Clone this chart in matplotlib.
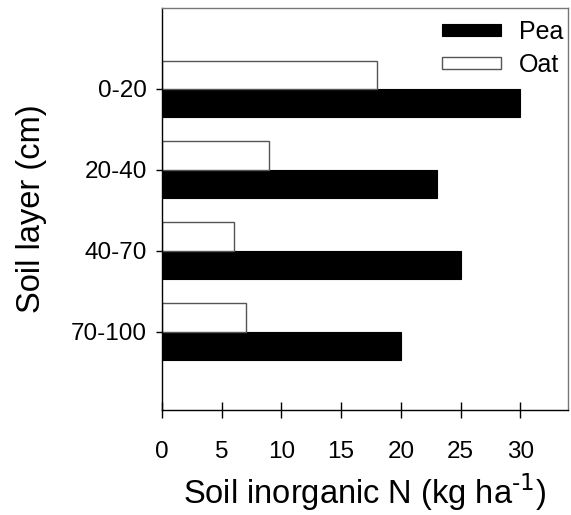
import matplotlib
matplotlib.use("Agg")
import matplotlib.pyplot as plt
import numpy as np

plt.rcParams['font.family'] = ['Liberation Sans', 'DejaVu Sans']

layers = ["0-20", "20-40", "40-70", "70-100"]
pea = [30, 23, 25, 20]
oat = [18, 9, 6, 7]
xticks = [0, 5, 10, 15, 20, 25, 30]

fig = plt.figure(figsize=(5.71, 5.15), dpi=100)
ax = fig.add_axes([162/571, 1 - 410/515, (568-162)/571, (410-8)/515])

pos = np.arange(len(layers))
h = 0.35
ax.barh(pos + h/2, pea, height=h, color='black', edgecolor='black', linewidth=0.8, label='Pea')
ax.barh(pos - h/2, oat, height=h, color='white', edgecolor='#555555', linewidth=1.0, label='Oat')

ax.set_xlim(0, 34)
ax.set_ylim(3.97, -1.0)
ax.set_yticks(pos)
ax.set_yticklabels(layers, fontsize=17.5)
ax.set_xticks(xticks)
ax.set_xticklabels([str(t) for t in xticks], fontsize=17.5)
ax.tick_params(axis='y', direction='out', length=4, width=1, pad=7)
ax.tick_params(axis='x', direction='inout', length=12, width=1, pad=16)

for s in ['left', 'bottom']:
    ax.spines[s].set_color('black')
    ax.spines[s].set_linewidth(1)
for s in ['top', 'right']:
    ax.spines[s].set_color('#777777')
    ax.spines[s].set_linewidth(1)

ax.set_xlabel('Soil inorganic N (kg ha$^{\\text{-1}}$)', fontsize=23.5, labelpad=6)
ax.set_ylabel('Soil layer (cm)', fontsize=23.5, labelpad=17)

leg = ax.legend(loc='upper right', bbox_to_anchor=(1.0, 0.982), frameon=False,
                fontsize=18, handlelength=2.35, handleheight=0.35,
                borderaxespad=0.0, borderpad=0.2, labelspacing=0.35, handletextpad=0.7)

fig.savefig('out.png', dpi=100)
